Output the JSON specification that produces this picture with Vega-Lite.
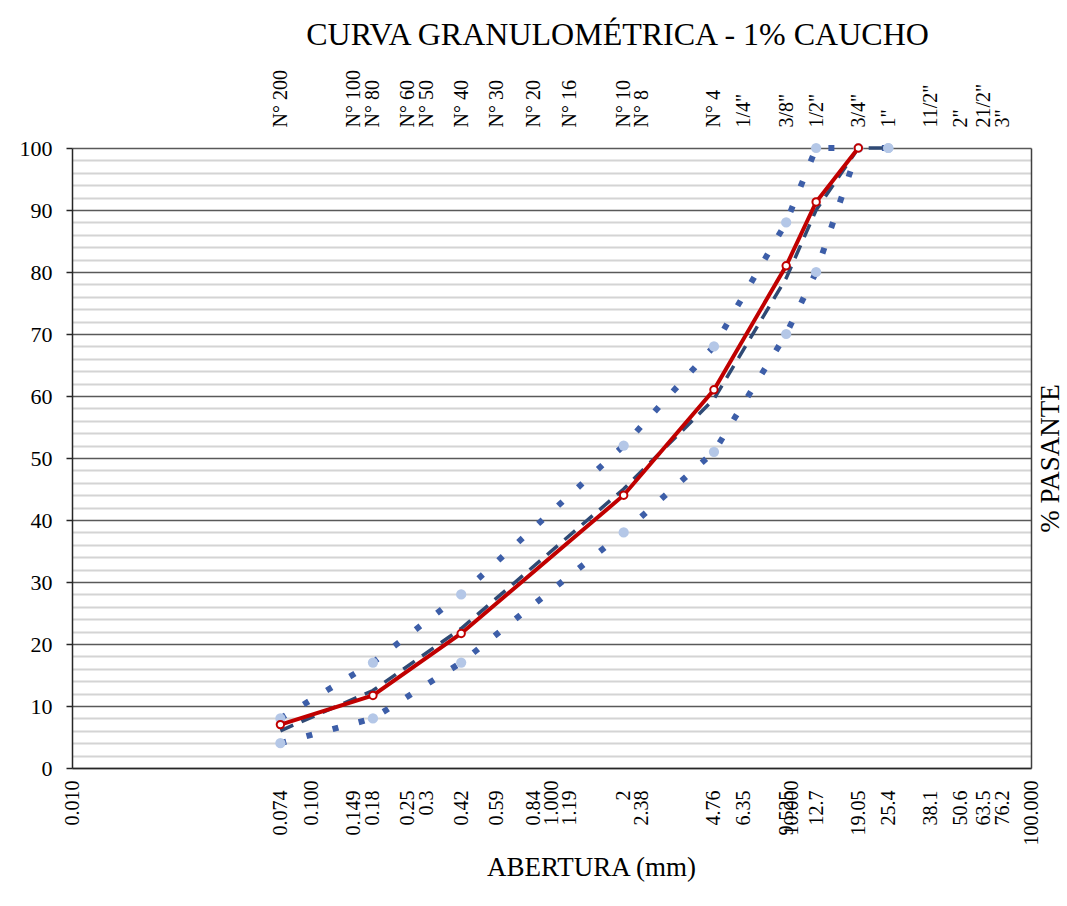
{
  "$schema": "https://vega.github.io/schema/vega-lite/v6.json",
  "autosize": "none",
  "width": 959,
  "height": 620,
  "padding": {"left": 72, "top": 148, "right": 36, "bottom": 138},
  "background": "white",
  "title": {
    "text": "CURVA GRANULOMÉTRICA - 1% CAUCHO",
    "font": "Liberation Serif",
    "fontSize": 32,
    "fontWeight": "normal",
    "color": "#000000",
    "frame": "group",
    "anchor": "middle",
    "dx": 66,
    "offset": 18
  },
  "data": {
    "values": [
      {"abertura": 0.074, "pasante": 8, "serie": "Límite superior"},
      {"abertura": 0.18, "pasante": 17, "serie": "Límite superior"},
      {"abertura": 0.42, "pasante": 28, "serie": "Límite superior"},
      {"abertura": 2, "pasante": 52, "serie": "Límite superior"},
      {"abertura": 4.76, "pasante": 68, "serie": "Límite superior"},
      {"abertura": 9.525, "pasante": 88, "serie": "Límite superior"},
      {"abertura": 12.7, "pasante": 100, "serie": "Límite superior"},
      {"abertura": 25.4, "pasante": 100, "serie": "Límite superior"},
      {"abertura": 0.074, "pasante": 4, "serie": "Límite inferior"},
      {"abertura": 0.18, "pasante": 8, "serie": "Límite inferior"},
      {"abertura": 0.42, "pasante": 17, "serie": "Límite inferior"},
      {"abertura": 2, "pasante": 38, "serie": "Límite inferior"},
      {"abertura": 4.76, "pasante": 51, "serie": "Límite inferior"},
      {"abertura": 9.525, "pasante": 70, "serie": "Límite inferior"},
      {"abertura": 12.7, "pasante": 80, "serie": "Límite inferior"},
      {"abertura": 19.05, "pasante": 100, "serie": "Límite inferior"},
      {"abertura": 25.4, "pasante": 100, "serie": "Límite inferior"},
      {"abertura": 0.074, "pasante": 6, "serie": "Media"},
      {"abertura": 0.18, "pasante": 12.5, "serie": "Media"},
      {"abertura": 0.42, "pasante": 22.5, "serie": "Media"},
      {"abertura": 2, "pasante": 45, "serie": "Media"},
      {"abertura": 4.76, "pasante": 59.5, "serie": "Media"},
      {"abertura": 9.525, "pasante": 79, "serie": "Media"},
      {"abertura": 12.7, "pasante": 90, "serie": "Media"},
      {"abertura": 19.05, "pasante": 100, "serie": "Media"},
      {"abertura": 25.4, "pasante": 100, "serie": "Media"},
      {"abertura": 0.074, "pasante": 7, "serie": "1% Caucho"},
      {"abertura": 0.18, "pasante": 11.7, "serie": "1% Caucho"},
      {"abertura": 0.42, "pasante": 21.7, "serie": "1% Caucho"},
      {"abertura": 2, "pasante": 44, "serie": "1% Caucho"},
      {"abertura": 4.76, "pasante": 61, "serie": "1% Caucho"},
      {"abertura": 9.525, "pasante": 81, "serie": "1% Caucho"},
      {"abertura": 12.7, "pasante": 91.3, "serie": "1% Caucho"},
      {"abertura": 19.05, "pasante": 100, "serie": "1% Caucho"}
    ]
  },
  "resolve": {"axis": {"x": "independent", "y": "independent"}},
  "layer": [
    {
      "transform": [{"filter": "datum.serie === 'Límite superior' || datum.serie === 'Límite inferior'"}],
      "mark": {"type": "line", "color": "#3d5ea8", "strokeWidth": 6, "strokeDash": [6, 21], "strokeCap": "butt"},
      "encoding": {
        "x": {
          "field": "abertura", "type": "quantitative",
          "scale": {"type": "log", "domain": [0.01, 100], "nice": false},
          "axis": {
            "orient": "bottom", "values": [0.01, 0.1, 1, 10, 100], "format": ".3f",
            "labelAngle": 270, "labelAlign": "right", "labelBaseline": "middle",
            "labelPadding": 12, "ticks": false, "grid": false,
            "labelFont": "Liberation Serif", "labelFontSize": 20, "labelColor": "#000000",
            "labelOverlap": false, "labelBound": false, "labelFlush": false,
            "domain": true, "domainColor": "#262626", "domainWidth": 1.5,
            "title": "ABERTURA (mm)", "titleFont": "Liberation Serif", "titleFontSize": 27,
            "titleFontWeight": "normal", "titleColor": "#000000", "titleX": 519, "titleY": 86,
            "titleAlign": "center", "titleBaseline": "top"
          }
        },
        "y": {
          "field": "pasante", "type": "quantitative",
          "scale": {"domain": [0, 100], "nice": false},
          "axis": {
            "orient": "left", "values": [0, 10, 20, 30, 40, 50, 60, 70, 80, 90, 100],
            "grid": true, "gridColor": "#595959", "gridWidth": 1.5,
            "domain": true, "domainColor": "#262626", "domainWidth": 1.5,
            "ticks": true, "tickSize": 6, "tickColor": "#262626", "tickWidth": 1.5,
            "labelPadding": 14, "labelFont": "Liberation Serif", "labelFontSize": 22, "labelColor": "#000000",
            "title": null
          }
        },
        "detail": {"field": "serie"}
      }
    },
    {
      "transform": [{"filter": "datum.serie === 'Media'"}],
      "mark": {"type": "line", "color": "#2f4a75", "strokeWidth": 3.5, "strokeDash": [14, 9]},
      "encoding": {
        "x": {
          "field": "abertura", "type": "quantitative",
          "axis": {
            "orient": "bottom",
            "values": [0.074, 0.149, 0.18, 0.25, 0.3, 0.42, 0.59, 0.84, 1.19, 2, 2.38, 4.76, 6.35, 9.525, 12.7, 19.05, 25.4, 38.1, 50.6, 63.5, 76.2],
            "labelExpr": "['0.074','0.149','0.18','0.25','0.3','0.42','0.59','0.84','1.19','2','2.38','4.76','6.35','9.525','12.7','19.05','25.4','38.1','50.6','63.5','76.2'][indexof([0.074, 0.149, 0.18, 0.25, 0.3, 0.42, 0.59, 0.84, 1.19, 2, 2.38, 4.76, 6.35, 9.525, 12.7, 19.05, 25.4, 38.1, 50.6, 63.5, 76.2], datum.value)]",
            "labelAngle": 270, "labelAlign": "right", "labelBaseline": "middle",
            "labelPadding": 22, "ticks": false, "grid": false, "domain": false,
            "labelFont": "Liberation Serif", "labelFontSize": 20, "labelColor": "#000000",
            "labelOverlap": false, "labelBound": false, "labelFlush": false,
            "title": null
          }
        },
        "y": {
          "field": "pasante", "type": "quantitative",
          "axis": {
            "orient": "right",
            "values": [2, 4, 6, 8, 12, 14, 16, 18, 22, 24, 26, 28, 32, 34, 36, 38, 42, 44, 46, 48, 52, 54, 56, 58, 62, 64, 66, 68, 72, 74, 76, 78, 82, 84, 86, 88, 92, 94, 96, 98],
            "grid": true, "gridColor": "#d4d4d4", "gridWidth": 2,
            "labels": false, "ticks": false,
            "domain": true, "domainColor": "#404040", "domainWidth": 1.5,
            "title": "% PASANTE", "titleFont": "Liberation Serif", "titleFontSize": 27,
            "titleFontWeight": "normal", "titleColor": "#000000", "titleAngle": 270,
            "titlePadding": 33
          }
        }
      }
    },
    {
      "transform": [{"filter": "datum.serie === 'Límite superior' || datum.serie === 'Límite inferior'"}],
      "mark": {"type": "point", "shape": "circle", "filled": true, "color": "#b4c7e7", "opacity": 1, "size": 105},
      "encoding": {
        "x": {
          "field": "abertura", "type": "quantitative",
          "axis": {
            "orient": "top",
            "values": [0.074, 0.149, 0.18, 0.25, 0.3, 0.42, 0.59, 0.84, 1.19, 2, 2.38, 4.76, 6.35, 9.525, 12.7, 19.05, 25.4, 38.1, 50.6, 63.5, 76.2],
            "labelExpr": "['N° 200','N° 100','N° 80','N° 60','N° 50','N° 40','N° 30','N° 20','N° 16','N° 10','N° 8','N° 4','1/4\"','3/8\"','1/2\"','3/4\"','1\"','11/2\"','2\"','21/2\"','3\"'][indexof([0.074, 0.149, 0.18, 0.25, 0.3, 0.42, 0.59, 0.84, 1.19, 2, 2.38, 4.76, 6.35, 9.525, 12.7, 19.05, 25.4, 38.1, 50.6, 63.5, 76.2], datum.value)]",
            "labelAngle": 270, "labelAlign": "left", "labelBaseline": "middle",
            "labelPadding": 21, "ticks": false, "grid": false, "domain": false,
            "labelFont": "Liberation Serif", "labelFontSize": 20, "labelColor": "#000000",
            "labelOverlap": false, "labelBound": false, "labelFlush": false,
            "title": null
          }
        },
        "y": {"field": "pasante", "type": "quantitative", "axis": null}
      }
    },
    {
      "transform": [{"filter": "datum.serie === '1% Caucho'"}],
      "mark": {"type": "line", "color": "#c00000", "strokeWidth": 4},
      "encoding": {
        "x": {"field": "abertura", "type": "quantitative", "axis": null},
        "y": {"field": "pasante", "type": "quantitative", "axis": null}
      }
    },
    {
      "transform": [{"filter": "datum.serie === '1% Caucho'"}],
      "mark": {"type": "point", "shape": "circle", "filled": true, "fill": "#ffffff", "stroke": "#c00000", "strokeWidth": 2, "opacity": 1, "size": 55},
      "encoding": {
        "x": {"field": "abertura", "type": "quantitative", "axis": null},
        "y": {"field": "pasante", "type": "quantitative", "axis": null}
      }
    }
  ],
  "config": {
    "view": {"stroke": null},
    "font": "Liberation Serif"
  }
}
